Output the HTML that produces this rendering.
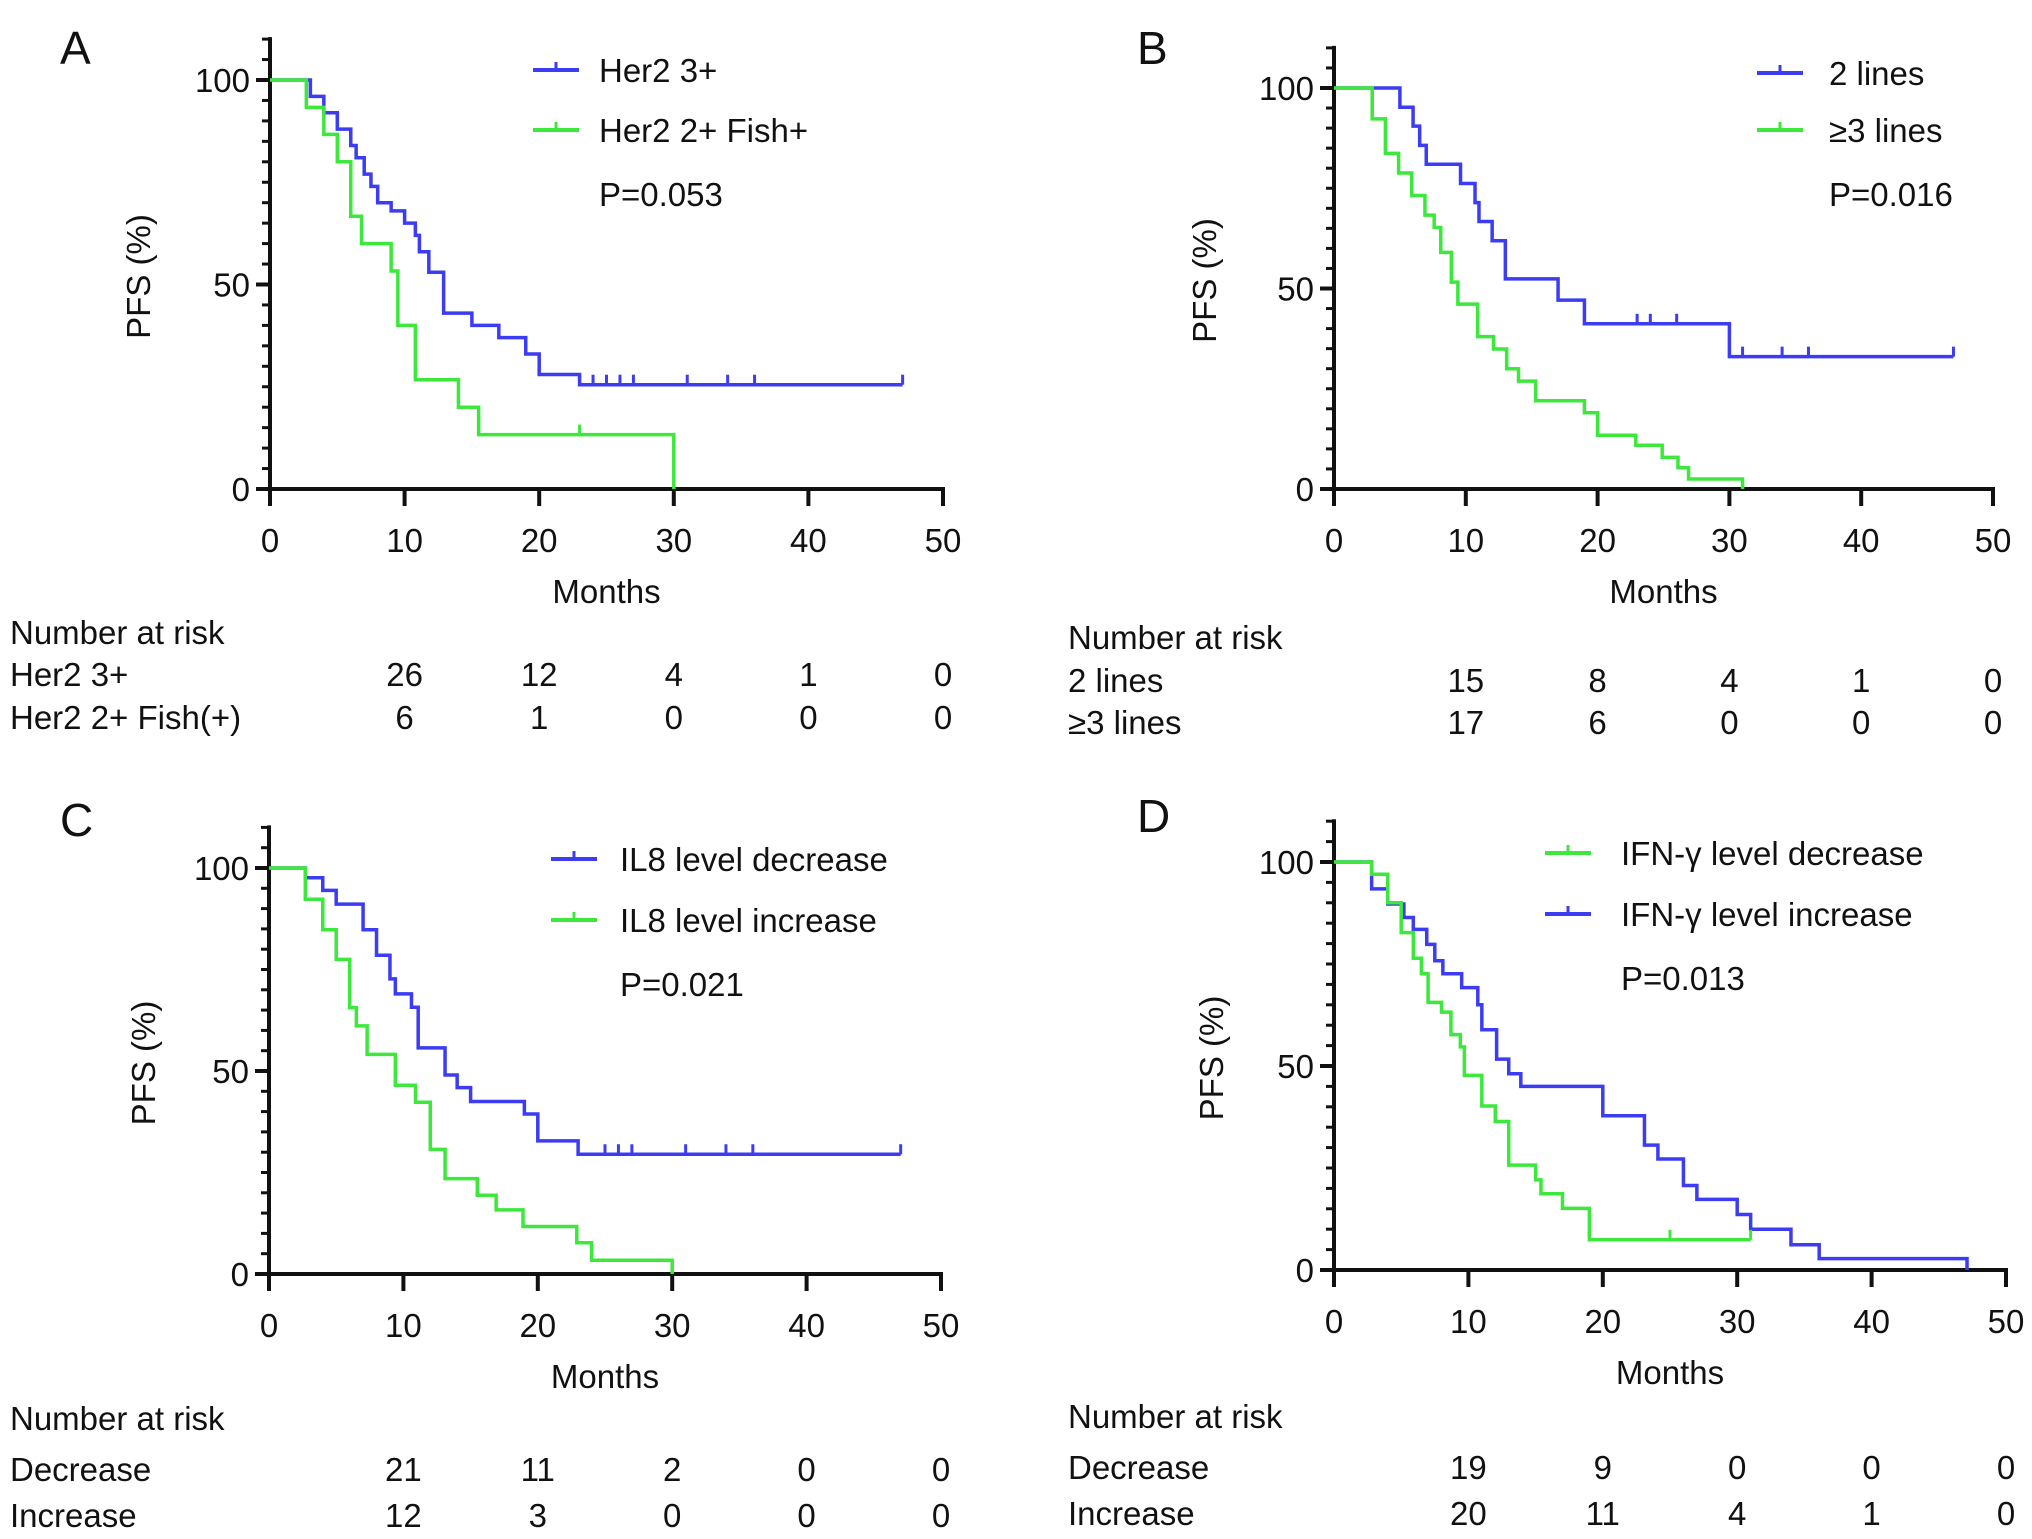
<!DOCTYPE html>
<html><head><meta charset="utf-8"><style>
html,body{margin:0;padding:0;background:#fff;}
svg{display:block;font-family:"Liberation Sans",sans-serif;}
</style></head><body>
<svg id="fig" width="2032" height="1539" viewBox="0 0 2032 1539" xmlns="http://www.w3.org/2000/svg"></svg>
<script>
// ---- Panel A data ----
const aBlueT = [3,4,5,6,6.4,7,7.5,8,9,10,10.8,11.1,11.8,12.9,15,17,19,20,23];
const aBlueS = [96,92,88,84,81,77,74,70,68,65,62,58,53,43,40,37,33,28,25.5];
const aBlueC = [24,25,26,27,31,34,36,47];
const aGreenT = [2.7,4,5,6,6.8,9,9.5,10.8,14,15.5,30];
const aGreenS = [93.3,86.7,80,66.7,60,53.3,40,26.7,20,13.3,0];
const aGreenC = [23];
const aRiskBlue = ["26","12","4","1","0"];
const aRiskGreen = ["6","1","0","0","0"];
// ---- Panel B data ----
const bBlueT = [5,6,6.5,7,9.6,10.7,11,12,13,17,19,30];
const bBlueS = [95.2,90.5,85.7,81,76.2,71.4,66.7,61.9,52.4,47.1,41.2,33];
const bBlueC = [23,24,26,31,34,36,47];
const bGreenT = [2.9,3.9,4.9,5.9,6.9,7.6,8.1,8.9,9.4,10.9,12.1,13.1,14,15.3,19,20,22.9,24.9,26.1,26.9,31];
const bGreenS = [92.3,83.7,78.8,73.2,68.3,65.2,59,51.6,46.1,38,34.9,30,26.9,22,19,13.4,10.9,7.9,5.3,2.5,0];
const bGreenC = [];
const bRiskBlue = ["15","8","4","1","0"];
const bRiskGreen = ["17","6","0","0","0"];
// ---- Panel C data ----
const cBlueT = [2.7,4,5,7,8,9,9.4,10.6,11.1,13.1,14,15,19,20,23];
const cBlueS = [97.6,94.5,91.1,84.8,78.5,72.7,69,65.7,55.7,49,45.9,42.5,39.4,32.8,29.5];
const cBlueC = [25,26,27,31,34,36,47];
const cGreenT = [2.7,4,5,6,6.5,7.3,9.4,10.9,12,13.1,15.5,16.9,18.9,22.9,24,30];
const cGreenS = [92.3,84.8,77.5,65.6,61.1,54.1,46.5,42.3,30.7,23.5,19.4,15.8,11.7,7.7,3.4,0];
const cGreenC = [];
const cRiskBlue = ["21","11","2","0","0"];
const cRiskGreen = ["12","3","0","0","0"];
// ---- Panel D data ----
const dGreenT = [2.8,4,5,5.9,6.5,7,8,8.7,9.4,9.7,11,12,13,15,15.4,17,19];
const dGreenS = [97,90,82.7,76.4,72.6,65.6,63.2,57.7,54.7,47.7,40.2,36.4,25.7,22.1,18.7,15.1,7.4];
const dGreenC = [25,31];
const dBlueT = [2.8,4,5.2,5.9,6.9,7.5,8.1,9.5,10.7,11,12.1,13,13.9,20,23.1,24.1,26,27,30,31,34,36.1,47.1];
const dBlueS = [93.4,89.7,86.4,83.5,79.8,75.8,72.6,69.2,65,58.9,51.7,48.1,45,37.8,30.6,27.2,20.7,17.3,13.6,10,6.2,2.8,0];
const dBlueC = [];
const dRiskGreen = ["19","9","0","0","0"];
const dRiskBlue = ["20","11","4","1","0"];
const xTicks = [0,10,20,30,40,50];
const riskTimes = [10,20,30,40,50];
const yTicks = [0,50,100];

const BLUE = "#3c3cf2", GREEN = "#3be83b";
const NS = "http://www.w3.org/2000/svg";
const svg = document.getElementById('fig');
function mk(tag, attrs, parent){
  const e = document.createElementNS(NS, tag);
  for (const k in attrs) e.setAttribute(k, attrs[k]);
  (parent||svg).appendChild(e);
  return e;
}
function txt(s, x, y, size, anchor, parent){
  const t = mk('text', {x:x, y:y, 'font-size':size, 'text-anchor':anchor||'start', fill:'#111'}, parent);
  t.textContent = s;
  return t;
}

function panel(p){
  const g = mk('g', {});
  
  
  const X = t => p.x0 + (p.x50 - p.x0) * t / 50;
  const Y = v => p.y0 - (p.y0 - p.y100) * v / 100;
  const lt = txt(p.letter, p.lx, p.ly, 46, 'start', g);
  
  
  const ax = mk('g', {stroke:'#111','stroke-width':4,fill:'none'}, g);
  
  
  mk('line', {x1:p.x0, y1:Y(110)-2, x2:p.x0, y2:p.y0+2}, ax);
  mk('line', {x1:p.x0-2, y1:p.y0, x2:p.x50+2, y2:p.y0}, ax);
  for (let v = 0; v <= 110; v += 5) {
    const major = yTicks.indexOf(v) >= 0;
    mk('line', {x1:p.x0 - (major ? 14 : 8), y1:Y(v), x2:p.x0, y2:Y(v), 'stroke-width': major ? 4 : 3}, ax);
  }
  xTicks.forEach(t => mk('line', {x1:X(t), y1:p.y0, x2:X(t), y2:p.y0 + 17}, ax));
  yTicks.forEach(v => {
    const e = txt(String(v), p.x0 - 20, Y(v) + 12, 33, 'end', g);
    
    
  });
  xTicks.forEach(t => {
    const e = txt(String(t), X(t), p.y0 + 63, 33, 'middle', g);
    
    
  });
  const xt = txt('Months', (p.x0 + p.x50) / 2, p.y0 + 114, 33, 'middle', g);
  
  
  const ycx = p.ylx, ycy = (p.y0 + p.y100) / 2 - 8;
  const yt = txt('PFS (%)', 0, 0, 33, 'middle', g);
  yt.setAttribute('transform', `translate(${ycx + 12},${ycy}) rotate(-90)`);
  
  
  p.series.forEach(s => {
    let d = `M${X(0)},${Y(100)}`;
    s.T.forEach((t, i) => { d += ` H${X(t)} V${Y(s.S[i])}`; });
    const endT = Math.max(s.T[s.T.length - 1], s.C.length ? s.C[s.C.length - 1] : 0);
    d += ` H${X(endT)}`;
    const path = mk('path', {d:d, stroke:s.color, 'stroke-width':3.5, fill:'none'}, g);
    
    
    s.C.forEach(c => {
      let v = 100;
      s.T.forEach((t, i) => { if (t <= c) v = s.S[i]; });
      const m = mk('line', {x1:X(c), y1:Y(v), x2:X(c), y2:Y(v) - 10, stroke:s.color, 'stroke-width':3}, g);
      
      
    });
  });
  p.legend.forEach((l, i) => {
    const lg = mk('g', {}, g);
    
    
    const yy = p.legY[i];
    mk('line', {x1:p.legX, y1:yy, x2:p.legX + 46, y2:yy, stroke:l.color, 'stroke-width':4}, lg);
    mk('line', {x1:p.legX + 23, y1:yy, x2:p.legX + 23, y2:yy - 8, stroke:l.color, 'stroke-width':3}, lg);
    txt(l.label, p.legTX, yy + 12, 33, 'start', lg);
  });
  const pv = txt(p.pval, p.legTX, p.legY[2] + 12, 33, 'start', g);
  
  
  const rt = mk('g', {}, g);
  
  
  txt('Number at risk', p.rx, p.riskY[0] + 12, 33, 'start', rt);
  p.risk.forEach((r, j) => {
    txt(r.label, p.rx, p.riskY[j + 1] + 12, 33, 'start', rt);
    r.vals.forEach((v, i) => txt(v, X(riskTimes[i]), p.riskY[j + 1] + 12, 33, 'middle', rt));
  });
}

panel({letter:'A', lx:60, ly:64, x0:270, x50:943, y100:80, y0:489, ylx:138,
  series:[{name:'her2-3plus', T:aBlueT, S:aBlueS, C:aBlueC, color:BLUE},
          {name:'her2-2plus-fish', T:aGreenT, S:aGreenS, C:aGreenC, color:GREEN}],
  legend:[{label:'Her2 3+', color:BLUE},{label:'Her2 2+ Fish+', color:GREEN}],
  legX:533, legTX:599, legY:[70,130,194], pval:'P=0.053',
  rx:10, riskY:[632,674,717],
  risk:[{label:'Her2 3+', vals:aRiskBlue},{label:'Her2 2+ Fish(+)', vals:aRiskGreen}]});

panel({letter:'B', lx:1137, ly:64, x0:1334, x50:1993, y100:88, y0:489, ylx:1204,
  series:[{name:'two-lines', T:bBlueT, S:bBlueS, C:bBlueC, color:BLUE},
          {name:'three-plus-lines', T:bGreenT, S:bGreenS, C:bGreenC, color:GREEN}],
  legend:[{label:'2 lines', color:BLUE},{label:'\u22653 lines', color:GREEN}],
  legX:1757, legTX:1829, legY:[73,130,194], pval:'P=0.016',
  rx:1068, riskY:[637,680,722],
  risk:[{label:'2 lines', vals:bRiskBlue},{label:'\u22653 lines', vals:bRiskGreen}]});

panel({letter:'C', lx:60, ly:836, x0:269, x50:941, y100:868, y0:1274, ylx:143,
  series:[{name:'il8-decrease', T:cBlueT, S:cBlueS, C:cBlueC, color:BLUE},
          {name:'il8-increase', T:cGreenT, S:cGreenS, C:cGreenC, color:GREEN}],
  legend:[{label:'IL8 level decrease', color:BLUE},{label:'IL8 level increase', color:GREEN}],
  legX:551, legTX:620, legY:[859,920,984], pval:'P=0.021',
  rx:10, riskY:[1418,1469,1515],
  risk:[{label:'Decrease', vals:cRiskBlue},{label:'Increase', vals:cRiskGreen}]});

panel({letter:'D', lx:1137, ly:832, x0:1334, x50:2006, y100:862, y0:1270, ylx:1211,
  series:[{name:'ifn-increase', T:dBlueT, S:dBlueS, C:dBlueC, color:BLUE},
          {name:'ifn-decrease', T:dGreenT, S:dGreenS, C:dGreenC, color:GREEN}],
  legend:[{label:'IFN-\u03b3 level decrease', color:GREEN},{label:'IFN-\u03b3 level increase', color:BLUE}],
  legX:1545, legTX:1621, legY:[853,914,978], pval:'P=0.013',
  rx:1068, riskY:[1416,1467,1513],
  risk:[{label:'Decrease', vals:dRiskGreen},{label:'Increase', vals:dRiskBlue}]});
</script>
</body></html>
